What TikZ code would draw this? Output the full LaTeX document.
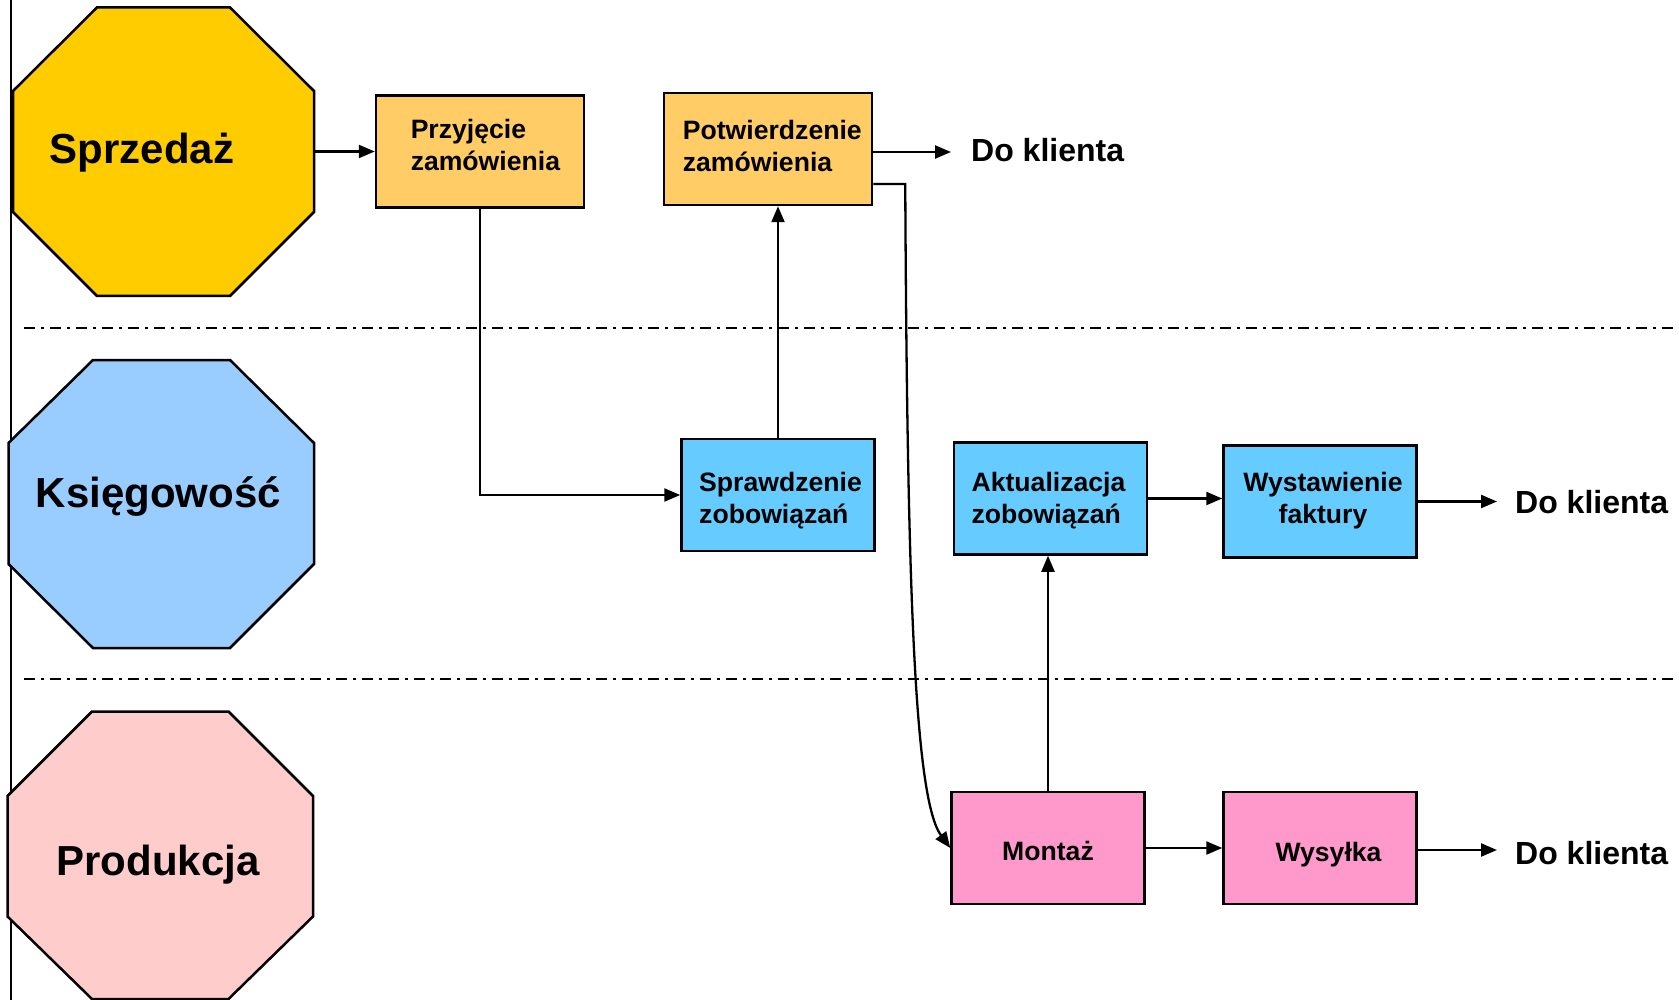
\documentclass[tikz,border=0pt]{standalone}
\usepackage{fontspec}
\setmainfont{Liberation Sans}
\usetikzlibrary{arrows.meta}
\definecolor{sales}{HTML}{FFCC00}
\definecolor{acct}{HTML}{99CCFF}
\definecolor{prod}{HTML}{FFCCCC}
\definecolor{salesbox}{HTML}{FFCC66}
\definecolor{acctbox}{HTML}{66CCFF}
\definecolor{prodbox}{HTML}{FF99CC}
\begin{document}
\begin{tikzpicture}[x=1pt,y=-1pt,
  octo/.style={draw=black,line width=2.5pt,line join=miter},
  octlabel/.style={font=\fontsize{42}{50}\selectfont\bfseries,inner sep=0pt},
  proc/.style={draw=black,line width=2.5pt,minimum width=193pt,minimum height=112pt,inner sep=0pt},
  ptext/.style={font=\fontsize{26.6}{32}\selectfont\bfseries,align=left,inner sep=0pt},
  dk/.style={font=\fontsize{32}{38}\selectfont\bfseries,anchor=west,inner sep=0pt},
  arr/.style={line width=2.3pt,-{Triangle[length=16pt,width=13pt]}},
  dashdot/.style={line width=2.2pt,dash pattern=on 11pt off 6pt on 3pt off 6pt}]
\useasboundingbox (0,0) rectangle (1679,1000);
\fill[white] (0,0) rectangle (1679,1000);

% swimlane separators
\draw[line width=2pt] (10.5,0) -- (10.5,1000);
\draw[dashdot] (23.5,327.7) -- (1679,327.7);
\draw[dashdot] (23.5,679) -- (1679,679);

% octagons
\filldraw[octo,fill=sales] (97,7.5) -- (230,7.5) -- (314,91) -- (314,212) -- (230,296) -- (97,296) -- (13,212) -- (13,91) -- cycle;
\filldraw[octo,fill=acct] (93,360) -- (230,360) -- (314,443) -- (314,564) -- (230,648) -- (93,648) -- (8.5,564) -- (8.5,443) -- cycle;
\filldraw[octo,fill=prod] (92,711.5) -- (228.5,711.5) -- (313,796) -- (313,916.5) -- (228.5,999) -- (92,999) -- (7.5,916.5) -- (7.5,796) -- cycle;
\coordinate (sprzE) at (314,151.5);

\node[octlabel] (sprz) at (142,152.3) {Sprzedaż};
\node[octlabel] (ksie) at (158.5,496.9) {Księgowość};
\node[octlabel] (prodl) at (158,864.3) {Produkcja};

% process boxes
\node[proc,fill=salesbox,minimum width=208pt] (przy) at (480,151.5) {};
\node[proc,fill=salesbox,minimum width=208pt] (pot) at (768,149) {};
\node[proc,fill=acctbox] (spr) at (778,495) {};
\node[proc,fill=acctbox] (akt) at (1050.5,498.5) {};
\node[proc,fill=acctbox] (wys) at (1320,501.5) {};
\node[proc,fill=prodbox] (mon) at (1048,848) {};
\node[proc,fill=prodbox] (wsk) at (1320,848) {};

\node[ptext] (przyT) at ([shift={(5.4,-6.4)}]przy.center) {Przyjęcie\\zamówienia};
\node[ptext] (potT) at ([shift={(4.3,-3.2)}]pot.center) {Potwierdzenie\\zamówienia};
\node[ptext] (sprT) at ([shift={(2.5,5.4)}]spr.center) {Sprawdzenie\\zobowiązań};
\node[ptext] (aktT) at ([shift={(-2,2)}]akt.center) {Aktualizacja\\zobowiązań};
\node[ptext,align=center] (wysT) at ([shift={(3,-1)}]wys.center) {Wystawienie\\faktury};
\node[ptext] (monT) at ([shift={(0,3.2)}]mon.center) {Montaż};
\node[ptext] (wskT) at ([shift={(8.5,6.4)}]wsk.center) {Wysyłka};

% outputs
\node[dk] (dk1) at (971,150) {Do klienta};
\node[dk] (dk2) at (1515,502) {Do klienta};
\node[dk] (dk3) at (1515,853) {Do klienta};

% connectors
\draw[arr] (sprzE) -- (przy.west);
\draw[arr,shorten >=20pt] ([yshift=-3pt]pot.east) -- ([yshift=-3pt]pot.east -| dk1.west);
\draw[arr] (przy.south) |- (spr.west);
\draw[arr] (spr.north) -- (spr.north |- pot.south);
\draw[arr] ([yshift=-35pt]pot.east) -- ++(32,0) .. controls +(2,416) and (915,800) .. (mon.west);
\draw[arr] (akt.east) -- (akt.east -| wys.west);
\draw[arr,shorten >=18pt] (wys.east) -- (wys.east -| dk2.west);
\draw[arr] (mon.north) -- (mon.north |- akt.south);
\draw[arr] (mon.east) -- (wsk.west);
\draw[arr,shorten >=18pt] ([yshift=-2pt]wsk.east) -- ([yshift=-2pt]wsk.east -| dk3.west);
\end{tikzpicture}
\end{document}
